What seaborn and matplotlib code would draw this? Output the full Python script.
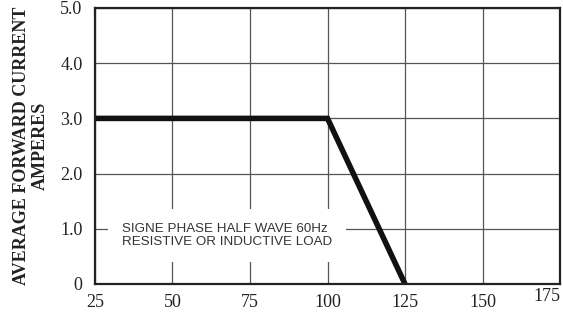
import matplotlib
matplotlib.use("Agg")
import matplotlib.pyplot as plt
import seaborn as sns
import pandas as pd

# derating curve: current vs temperature
temp = [25, 100, 125]
current = [3.0, 3.0, 0.0]
x_ticks = [25, 50, 75, 100, 125, 150, 175]
y_ticks = [0, 1, 2, 3, 4, 5]
y_labels = ["0", "1.0", "2.0", "3.0", "4.0", "5.0"]

df = pd.DataFrame({"temp": temp, "current": current})

sns.set_style("white")
plt.rcParams['font.family'] = ['Liberation Serif', 'DejaVu Serif']

fig = plt.figure(figsize=(5.63, 3.13), dpi=100)
ax = fig.add_axes([95/563, 29/313, 465/563, 276/313])

sns.lineplot(data=df, x="temp", y="current", color="#111111", linewidth=4,
             ax=ax, solid_joinstyle="miter", solid_capstyle="butt")

ax.set_xlim(25, 175)
ax.set_ylim(0, 5)
ax.set_xticks(x_ticks)
ax.set_yticks(y_ticks)
ax.set_yticklabels(y_labels)
ax.tick_params(axis="both", length=0, labelsize=13, colors="#222222")
ax.tick_params(axis="x", pad=7)
ax.tick_params(axis="y", pad=9)
ax.grid(True, color="#555555", linewidth=0.9)
ax.set_axisbelow(True)
for s in ax.spines.values():
    s.set_color("#222222")
    s.set_linewidth(1.6)

last = ax.get_xticklabels()[-1]
last.set_horizontalalignment("right")
last.set_y(0.02)

ax.set_xlabel("")
ax.set_ylabel("AVERAGE FORWARD CURRENT\nAMPERES", fontsize=13, fontweight="bold",
              color="#222222", linespacing=1.15)
ax.yaxis.set_label_coords(-0.1, 0.5)

ax.text(33.7, 0.88, "SIGNE PHASE HALF WAVE 60Hz\nRESISTIVE OR INDUCTIVE LOAD",
        family=['Liberation Sans', 'DejaVu Sans'], fontsize=9.6, color="#333333",
        va="center", ha="left", linespacing=1.2,
        bbox=dict(facecolor="white", edgecolor="none", pad=10))

fig.savefig("out.png", dpi=100)
